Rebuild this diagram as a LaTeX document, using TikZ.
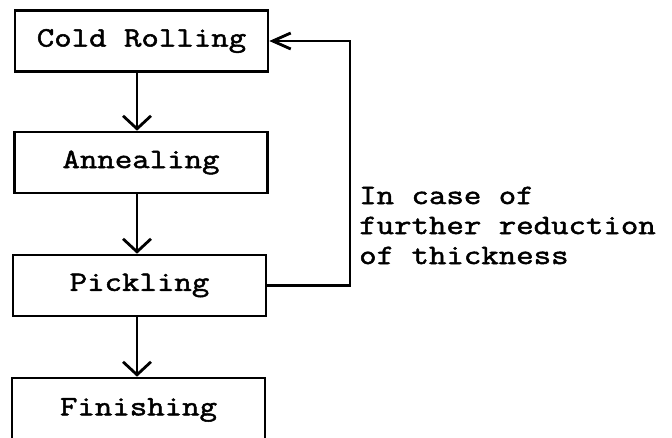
\documentclass[tikz,border=0pt]{standalone}
\usepackage{fontspec}
\newfontfamily\typew[FakeStretch=1.21,RawFeature={embolden=1.8}]{Latin Modern Mono}
\usetikzlibrary{arrows.meta}

\tikzset{
  stepbox/.style={draw, line width=2.6pt, rectangle, minimum width=253pt,
    minimum height=61pt, inner sep=0pt,
    font=\typew\fontsize{28}{30}\selectfont},
  flow/.style={line width=2.6pt,
    -{Straight Barb[length=13pt,width=28pt,line width=2.8pt]}},
  back/.style={line width=2.6pt,
    -{Straight Barb[length=18pt,width=16pt,line width=2.8pt]}},
  note/.style={align=left, anchor=base west, inner sep=0pt,
    font=\typew\fontsize{28}{30}\selectfont}
}

\begin{document}
\begin{tikzpicture}[x=1pt,y=-1pt]
  \clip (0,0) rectangle (672,437);

  % process steps
  \node[stepbox] (cold)   at (141.5,41)  {Cold Rolling};
  \node[stepbox] (anneal) at (141,162.5) {Annealing};
  \node[stepbox] (pickle) at (139.5,285.5) {Pickling};
  \node[stepbox, minimum height=64pt] (finish) at (138.5,410) {Finishing};

  % downward flow
  \coordinate (ax) at (137,0);
  \draw[flow] (cold.south -| ax)   -- (anneal.north -| ax);
  \draw[flow] (anneal.south -| ax) -- (pickle.north -| ax);
  \draw[flow] (pickle.south -| ax) -- (finish.north -| ax);

  % return loop from pickling back to cold rolling
  \coordinate (rx) at (350,0);
  \draw[back] (pickle.east) -- (pickle.east -| rx) -- (cold.east -| rx) -- (cold.east);

  % the base anchor sits on the last line's baseline
  \node[note] (why) at (359,264) {In case of\\further reduction\\of thickness};
\end{tikzpicture}
\end{document}
